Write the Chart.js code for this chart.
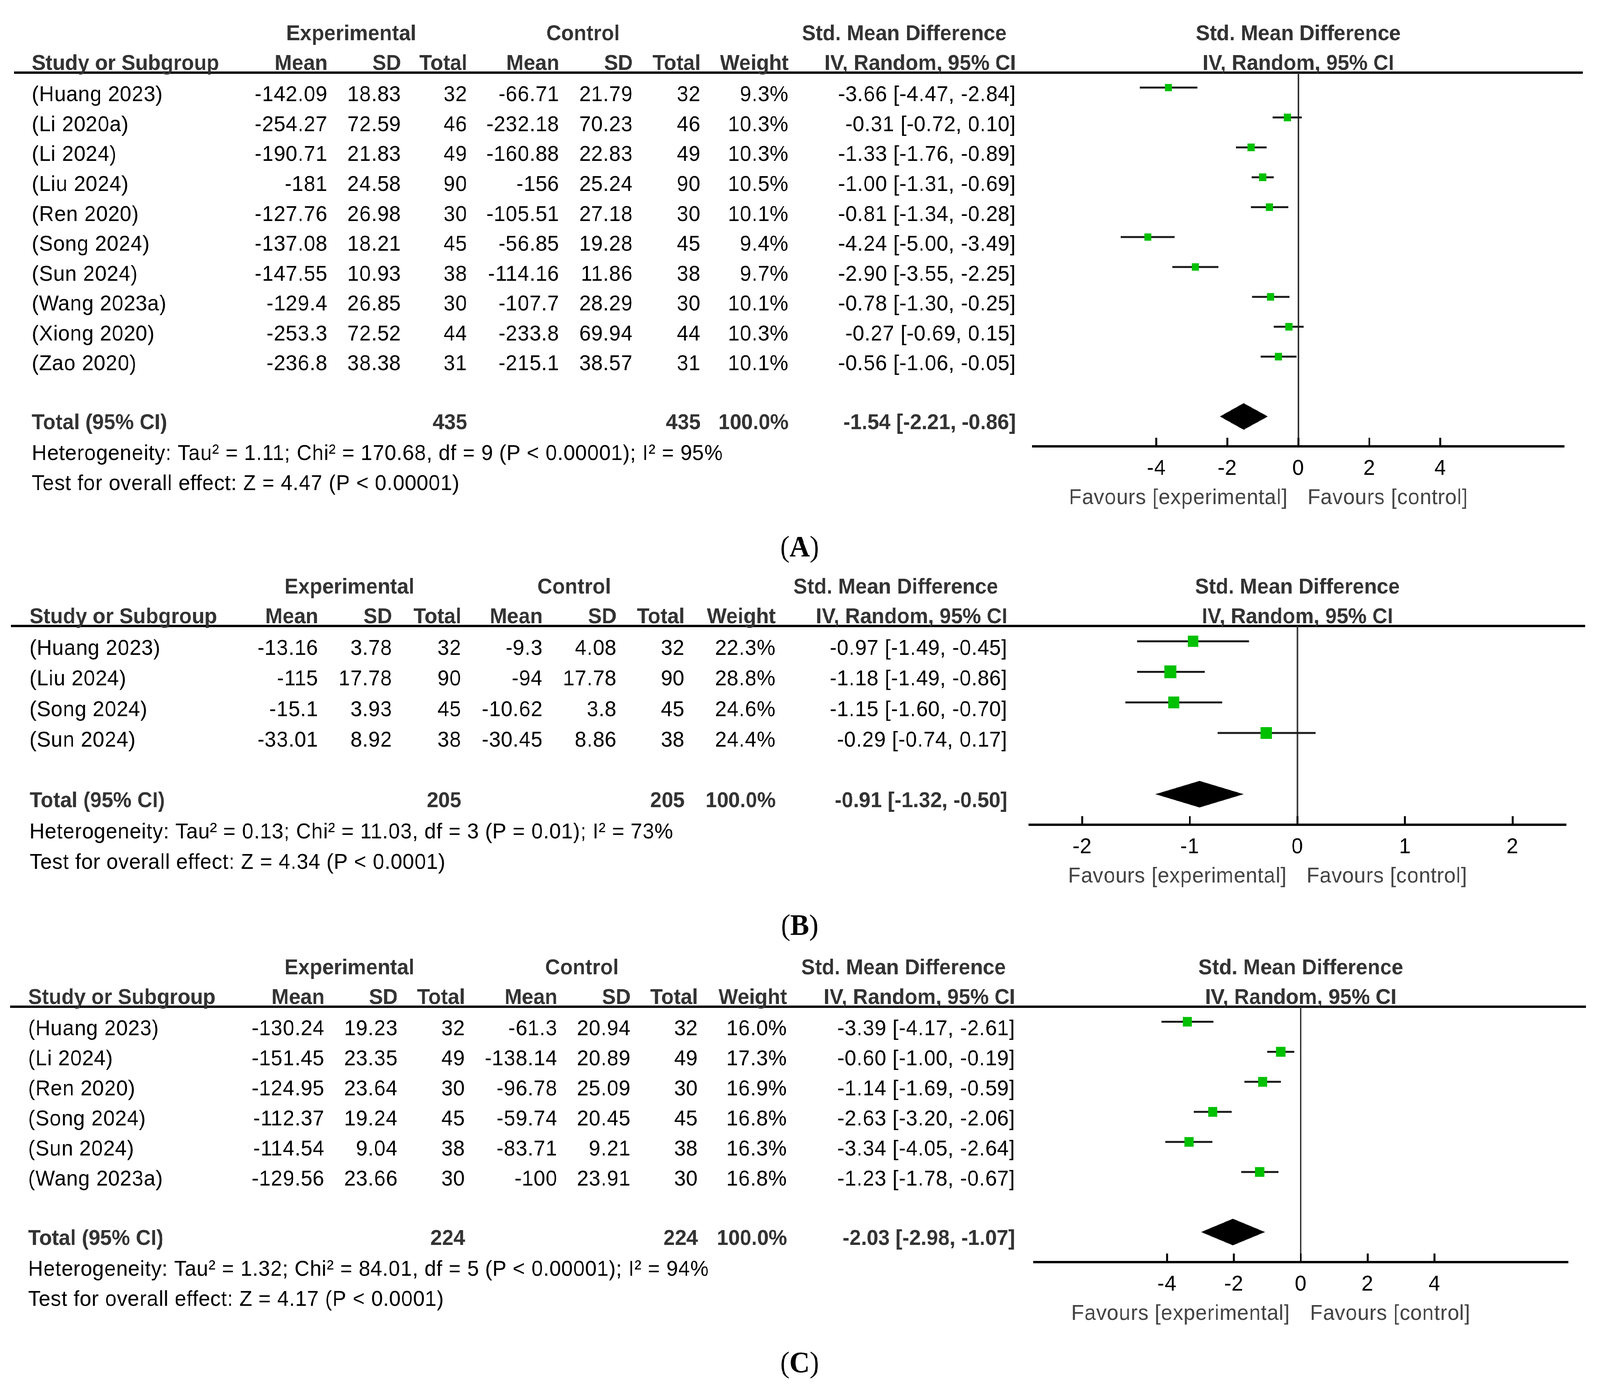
<!DOCTYPE html>
<html lang="en">
<head>
<meta charset="UTF-8" />
<title>Std. Mean Difference forest plots</title>
<script src="https://cdn.jsdelivr.net/npm/chart.js"></script>
<style>
  html, body { margin: 0; padding: 0; background: #fff; overflow: hidden; }
  #page { position: absolute; left: 0; top: 0; width: 4328px; height: 3580px; transform-origin: 0 0; }
  .panel { position: absolute; left: 0; width: 4328px; }
  .panel canvas { display: block; }
</style>
</head>
<body>
<div id="page">
  <div class="panel" style="top:0px"><canvas id="chartA" width="4328" height="1450"></canvas></div>
  <div class="panel" style="top:1450px"><canvas id="chartB" width="4328" height="970"></canvas></div>
  <div class="panel" style="top:2420px"><canvas id="chartC" width="4328" height="1160"></canvas></div>
</div>

<script>
// ---- panel A ----
const studiesA = ["(Huang 2023)", "(Li 2020a)", "(Li 2024)", "(Liu 2024)", "(Ren 2020)", "(Song 2024)", "(Sun 2024)", "(Wang 2023a)", "(Xiong 2020)", "(Zao 2020)"];
const expMeanA = [-142.09, -254.27, -190.71, -181, -127.76, -137.08, -147.55, -129.4, -253.3, -236.8];
const expSdA = [18.83, 72.59, 21.83, 24.58, 26.98, 18.21, 10.93, 26.85, 72.52, 38.38];
const expNA = [32, 46, 49, 90, 30, 45, 38, 30, 44, 31];
const ctlMeanA = [-66.71, -232.18, -160.88, -156, -105.51, -56.85, -114.16, -107.7, -233.8, -215.1];
const ctlSdA = [21.79, 70.23, 22.83, 25.24, 27.18, 19.28, 11.86, 28.29, 69.94, 38.57];
const ctlNA = [32, 46, 49, 90, 30, 45, 38, 30, 44, 31];
const weightA = [9.3, 10.3, 10.3, 10.5, 10.1, 9.4, 9.7, 10.1, 10.3, 10.1];
const smdA = [-3.66, -0.31, -1.33, -1.00, -0.81, -4.24, -2.90, -0.78, -0.27, -0.56];
const lowA = [-4.47, -0.72, -1.76, -1.31, -1.34, -5.00, -3.55, -1.30, -0.69, -1.06];
const highA = [-2.84, 0.10, -0.89, -0.69, -0.28, -3.49, -2.25, -0.25, 0.15, -0.05];
const totalA = [435, 435, -1.54, -2.21, -0.86];
const ticksA = [-4, -2, 0, 2, 4];
const hetA = "Heterogeneity: Tau\u00b2 = 1.11; Chi\u00b2 = 170.68, df = 9 (P < 0.00001); I\u00b2 = 95%";
const testA = "Test for overall effect: Z = 4.47 (P < 0.00001)";

// ---- panel B ----
const studiesB = ["(Huang 2023)", "(Liu 2024)", "(Song 2024)", "(Sun 2024)"];
const expMeanB = [-13.16, -115, -15.1, -33.01];
const expSdB = [3.78, 17.78, 3.93, 8.92];
const expNB = [32, 90, 45, 38];
const ctlMeanB = [-9.3, -94, -10.62, -30.45];
const ctlSdB = [4.08, 17.78, 3.8, 8.86];
const ctlNB = [32, 90, 45, 38];
const weightB = [22.3, 28.8, 24.6, 24.4];
const smdB = [-0.97, -1.18, -1.15, -0.29];
const lowB = [-1.49, -1.49, -1.60, -0.74];
const highB = [-0.45, -0.86, -0.70, 0.17];
const totalB = [205, 205, -0.91, -1.32, -0.50];
const ticksB = [-2, -1, 0, 1, 2];
const hetB = "Heterogeneity: Tau\u00b2 = 0.13; Chi\u00b2 = 11.03, df = 3 (P = 0.01); I\u00b2 = 73%";
const testB = "Test for overall effect: Z = 4.34 (P < 0.0001)";

// ---- panel C ----
const studiesC = ["(Huang 2023)", "(Li 2024)", "(Ren 2020)", "(Song 2024)", "(Sun 2024)", "(Wang 2023a)"];
const expMeanC = [-130.24, -151.45, -124.95, -112.37, -114.54, -129.56];
const expSdC = [19.23, 23.35, 23.64, 19.24, 9.04, 23.66];
const expNC = [32, 49, 30, 45, 38, 30];
const ctlMeanC = [-61.3, -138.14, -96.78, -59.74, -83.71, -100];
const ctlSdC = [20.94, 20.89, 25.09, 20.45, 9.21, 23.91];
const ctlNC = [32, 49, 30, 45, 38, 30];
const weightC = [16.0, 17.3, 16.9, 16.8, 16.3, 16.8];
const smdC = [-3.39, -0.60, -1.14, -2.63, -3.34, -1.23];
const lowC = [-4.17, -1.00, -1.69, -3.20, -4.05, -1.78];
const highC = [-2.61, -0.19, -0.59, -2.06, -2.64, -0.67];
const totalC = [224, 224, -2.03, -2.98, -1.07];
const ticksC = [-4, -2, 0, 2, 4];
const hetC = "Heterogeneity: Tau\u00b2 = 1.32; Chi\u00b2 = 84.01, df = 5 (P < 0.00001); I\u00b2 = 94%";
const testC = "Test for overall effect: Z = 4.17 (P < 0.0001)";

// the browser may cap the window below 4328px wide, so stretch the layout to fill it
const sx = window.innerWidth / 4328, sy = window.innerHeight / 3580;
document.getElementById("page").style.transform = "scale(" + sx + "," + sy + ")";

const FONT = '"Liberation Sans", Arial, sans-serif';
const NORMAL = "56px " + FONT;
const BOLD = "bold 56px " + FONT;
const SERIF = '"Liberation Serif", "Times New Roman", serif';

function fmtCI(m, lo, hi) {
  return m.toFixed(2) + " [" + lo.toFixed(2) + ", " + hi.toFixed(2) + "]";
}

function text(ctx, s, x, y, align, font, color) {
  ctx.font = font;
  ctx.fillStyle = color;
  ctx.textAlign = align;
  ctx.textBaseline = "alphabetic";
  if ("letterSpacing" in ctx) ctx.letterSpacing = font.indexOf("bold") === 0 ? "0px" : "1px";
  ctx.fillText(s, x, y);
}

function forestPlugin(p) {
  return {
    id: "forest" + p.label,
    beforeDatasetsDraw(chart) {
      const ctx = chart.ctx;
      const xs = chart.scales.x, ys = chart.scales.y;
      const area = chart.chartArea;
      const x0 = xs.getPixelForValue(0);
      ctx.save();
      ctx.lineCap = "butt";
      // header rule
      ctx.strokeStyle = "#000";
      ctx.lineWidth = 6;
      ctx.beginPath();
      ctx.moveTo(p.lineLeft, area.top);
      ctx.lineTo(p.lineRight, area.top);
      ctx.stroke();
      // line of no effect
      ctx.strokeStyle = "#333";
      ctx.lineWidth = 4;
      ctx.beginPath();
      ctx.moveTo(x0, area.top);
      ctx.lineTo(x0, area.bottom);
      ctx.stroke();
      // confidence intervals
      ctx.strokeStyle = "#1a1a1a";
      ctx.lineWidth = 5;
      p.low.forEach((lo, i) => {
        const y = ys.getPixelForValue(i);
        ctx.beginPath();
        ctx.moveTo(xs.getPixelForValue(lo), y);
        ctx.lineTo(xs.getPixelForValue(p.high[i]), y);
        ctx.stroke();
      });
      // x axis with ticks pointing up
      ctx.strokeStyle = "#000";
      ctx.lineWidth = 6;
      ctx.beginPath();
      ctx.moveTo(area.left, area.bottom);
      ctx.lineTo(area.right, area.bottom);
      ctx.stroke();
      ctx.lineWidth = 5;
      p.ticks.forEach(t => {
        const x = xs.getPixelForValue(t);
        ctx.beginPath();
        ctx.moveTo(x, area.bottom - 22);
        ctx.lineTo(x, area.bottom + 3);
        ctx.stroke();
      });
      ctx.restore();
    },
    afterDatasetsDraw(chart) {
      const ctx = chart.ctx;
      const xs = chart.scales.x, ys = chart.scales.y;
      const n = p.studies.length;
      const yT = ys.getPixelForValue(n + 1);
      ctx.save();
      ctx.fillStyle = "#000";
      ctx.beginPath();
      ctx.moveTo(xs.getPixelForValue(p.total[3]), yT);
      ctx.lineTo(xs.getPixelForValue(p.total[2]), yT - 34);
      ctx.lineTo(xs.getPixelForValue(p.total[4]), yT);
      ctx.lineTo(xs.getPixelForValue(p.total[2]), yT + 34);
      ctx.closePath();
      ctx.fill();
      ctx.restore();
    },
    afterDraw(chart) {
      const ctx = chart.ctx;
      const xs = chart.scales.x, ys = chart.scales.y;
      const area = chart.chartArea;
      const n = p.studies.length;
      const c = p.cols;
      const top = area.top;
      const x0 = xs.getPixelForValue(0);
      ctx.save();
      // headers
      const hc = "#333";
      text(ctx, "Experimental", p.expCenter, top - 83, "center", BOLD, hc);
      text(ctx, "Control", p.ctlCenter, top - 83, "center", BOLD, hc);
      text(ctx, "Std. Mean Difference", c[7] - 25, top - 83, "right", BOLD, hc);
      text(ctx, "Std. Mean Difference", x0, top - 83, "center", BOLD, hc);
      text(ctx, "Study or Subgroup", p.left, top - 7, "left", BOLD, hc);
      ["Mean", "SD", "Total", "Mean", "SD", "Total", "Weight", "IV, Random, 95% CI"].forEach((h, k) => {
        text(ctx, h, c[k], top - 7, "right", BOLD, hc);
      });
      text(ctx, "IV, Random, 95% CI", x0, top - 7, "center", BOLD, hc);
      // study rows
      p.studies.forEach((s, i) => {
        const y = ys.getPixelForValue(i) + 35;
        const cells = [String(p.expMean[i]), String(p.expSd[i]), String(p.expN[i]),
          String(p.ctlMean[i]), String(p.ctlSd[i]), String(p.ctlN[i]),
          p.weight[i].toFixed(1) + "%", fmtCI(p.smd[i], p.low[i], p.high[i])];
        text(ctx, s, p.left, y, "left", NORMAL, "#000");
        cells.forEach((v, k) => text(ctx, v, c[k], y, "right", NORMAL, "#000"));
      });
      // total row
      const yT = ys.getPixelForValue(n + 1) + 33;
      text(ctx, "Total (95% CI)", p.left, yT, "left", BOLD, hc);
      text(ctx, String(p.total[0]), c[2], yT, "right", BOLD, hc);
      text(ctx, String(p.total[1]), c[5], yT, "right", BOLD, hc);
      text(ctx, "100.0%", c[6], yT, "right", BOLD, hc);
      text(ctx, fmtCI(p.total[2], p.total[3], p.total[4]), c[7], yT, "right", BOLD, hc);
      text(ctx, p.het, p.left, ys.getPixelForValue(n + 2) + 35, "left", NORMAL, "#000");
      text(ctx, p.test, p.left, ys.getPixelForValue(n + 3) + 35, "left", NORMAL, "#000");
      // tick labels and favours
      p.ticks.forEach(t => text(ctx, String(t), xs.getPixelForValue(t), area.bottom + 73, "center", NORMAL, "#000"));
      text(ctx, "Favours [experimental]", x0 - 29, area.bottom + 148, "right", NORMAL, "#444");
      text(ctx, "Favours [control]", x0 + 25, area.bottom + 148, "left", NORMAL, "#444");
      // panel letter (regular parentheses, bold letter)
      const fR = "76px " + SERIF, fB = "bold 76px " + SERIF;
      if ("letterSpacing" in ctx) ctx.letterSpacing = "0px";
      ctx.font = fR; const wp = ctx.measureText("(").width, wq = ctx.measureText(")").width;
      ctx.font = fB; const wl = ctx.measureText(p.label).width;
      const lx = 2163 - (wp + wl + wq) / 2;
      const ly = area.bottom + 282;
      text(ctx, "(", lx, ly, "left", fR, "#000");
      text(ctx, p.label, lx + wp, ly, "left", fB, "#000");
      text(ctx, ")", lx + wp + wl, ly, "left", fR, "#000");
      ctx.restore();
    }
  };
}

function buildPanel(id, p) {
  const n = p.studies.length;
  new Chart(document.getElementById(id), {
    type: "scatter",
    data: {
      datasets: [{
        data: p.smd.map((v, i) => ({ x: v, y: i })),
        pointStyle: "rect",
        pointRadius: p.weight.map(w => 6.1 * Math.sqrt(w) / Math.SQRT2),
        backgroundColor: "#00c000",
        borderWidth: 0
      }]
    },
    options: {
      responsive: false,
      animation: false,
      events: [],
      layout: { padding: p.padding },
      plugins: { legend: { display: false }, tooltip: { enabled: false } },
      scales: {
        x: { type: "linear", min: -p.range, max: p.range, display: false },
        y: { type: "linear", min: -0.5, max: n + 2, reverse: true, display: false }
      }
    },
    plugins: [forestPlugin(p)]
  });
}

buildPanel("chartA", {
  label: "A", studies: studiesA, expMean: expMeanA, expSd: expSdA, expN: expNA,
  ctlMean: ctlMeanA, ctlSd: ctlSdA, ctlN: ctlNA, weight: weightA,
  smd: smdA, low: lowA, high: highA, total: totalA, ticks: ticksA, range: 7.5,
  het: hetA, test: testA,
  padding: { left: 2792, right: 96, top: 186, bottom: 307 },
  left: 86, cols: [886, 1085, 1264, 1513, 1712, 1895, 2133, 2748],
  expCenter: 950, ctlCenter: 1577, lineLeft: 38, lineRight: 4282
});

buildPanel("chartB", {
  label: "B", studies: studiesB, expMean: expMeanB, expSd: expSdB, expN: expNB,
  ctlMean: ctlMeanB, ctlSd: ctlSdB, ctlN: ctlNB, weight: weightB,
  smd: smdB, low: lowB, high: highB, total: totalB, ticks: ticksB, range: 2.5,
  het: hetB, test: testB,
  padding: { left: 2782, right: 91, top: 153, bottom: 308 },
  left: 80, cols: [861, 1061, 1248, 1468, 1668, 1852, 2098, 2725],
  expCenter: 945, ctlCenter: 1553, lineLeft: 30, lineRight: 4288
});

buildPanel("chartC", {
  label: "C", studies: studiesC, expMean: expMeanC, expSd: expSdC, expN: expNC,
  ctlMean: ctlMeanC, ctlSd: ctlSdC, ctlN: ctlNC, weight: weightC,
  smd: smdC, low: lowC, high: highC, total: totalC, ticks: ticksC, range: 8,
  het: hetC, test: testC,
  padding: { left: 2795, right: 86, top: 158, bottom: 348 },
  left: 76, cols: [878, 1076, 1258, 1508, 1706, 1888, 2129, 2746],
  expCenter: 945, ctlCenter: 1574, lineLeft: 28, lineRight: 4290
});
</script>
</body>
</html>
